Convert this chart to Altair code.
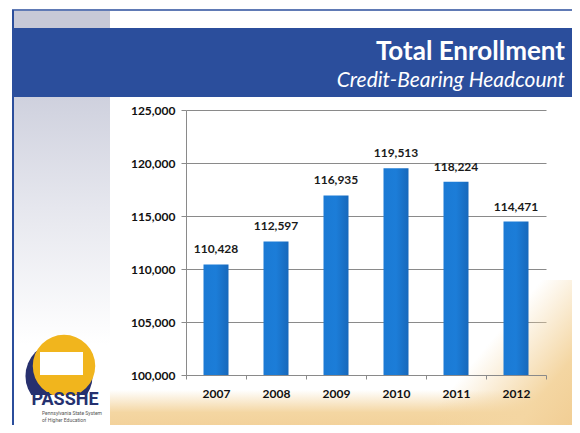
import altair as alt
import pandas as pd

# ---- data ----
years = ["2007", "2008", "2009", "2010", "2011", "2012"]
enrollment = [110428, 112597, 116935, 119513, 118224, 114471]
y_ticks = [100000, 105000, 110000, 115000, 120000, 125000]
title_text = "Total Enrollment"
subtitle_text = "Credit-Bearing Headcount"
logo_text = "PASSHE"
logo_sub1 = "Pennsylvania State System"
logo_sub2 = "of Higher Education"

df = pd.DataFrame({"year": years, "enrollment": enrollment})

NAVY = "#2b4e9c"
GRAY = "#8a8a8a"
LABEL_FONT = "Lato"

one = alt.Data(values=[{"k": 1}])


def deco_rect(x, x2, y, y2, color):
    return alt.Chart(one).mark_rect(color=color).encode(
        x=alt.value(x), x2=alt.value(x2), y=alt.value(y), y2=alt.value(y2)
    )


sand = "#f4d6a2"
sand_clear = "rgba(244,214,162,0)"

# background decorations (plot coordinates; plot origin at the axis corner)
top_line = alt.Chart(one).mark_rule(color=NAVY, strokeWidth=1.5).encode(
    x=alt.value(-174), x2=alt.value(400), y=alt.value(-100)
)
left_line = alt.Chart(one).mark_rule(color=NAVY, strokeWidth=2).encode(
    x=alt.value(-173), y=alt.value(-100), y2=alt.value(330)
)
gray_box = deco_rect(-172, -76, -99, -82, "#c7c9d7")
band = deco_rect(-172, 400, -82, -13, NAVY)
left_strip = deco_rect(
    -172, -76, -13, 235,
    alt.LinearGradient(
        gradient="linear", x1=0, y1=0, x2=0, y2=1,
        stops=[alt.GradientStop(color="#cfd1de", offset=0),
               alt.GradientStop(color="#e6e7ee", offset=0.45),
               alt.GradientStop(color="#ffffff", offset=1)],
    ),
)
sand_a = deco_rect(
    -76, 400, 280, 330,
    alt.LinearGradient(
        gradient="linear", x1=0, y1=0, x2=0, y2=1,
        stops=[alt.GradientStop(color=sand_clear, offset=0),
               alt.GradientStop(color=sand, offset=0.45),
               alt.GradientStop(color="#f1cd93", offset=1)],
    ),
)
sand_b = deco_rect(
    250, 400, 170, 330,
    alt.LinearGradient(
        gradient="linear", x1=0.05, y1=0.1, x2=0.95, y2=0.9,
        stops=[alt.GradientStop(color=sand_clear, offset=0),
               alt.GradientStop(color=sand_clear, offset=0.35),
               alt.GradientStop(color=sand, offset=0.75),
               alt.GradientStop(color="#f1cd93", offset=1)],
    ),
)

title = alt.Chart(one).mark_text(
    text=title_text, align="right", baseline="alphabetic", font=LABEL_FONT,
    fontSize=26, fontWeight="bold", color="white",
).encode(x=alt.value(379), y=alt.value(-50))
subtitle = alt.Chart(one).mark_text(
    text=subtitle_text, align="right", baseline="alphabetic", font=LABEL_FONT,
    fontSize=21, fontStyle="italic", color="white",
).encode(x=alt.value(379), y=alt.value(-23))

# logo
logo_swoosh = alt.Chart(one).mark_circle(color="#27306e", opacity=1).encode(
    x=alt.value(-127), y=alt.value(266), size=alt.value(4500)
)
logo_circle = alt.Chart(one).mark_circle(color="#f1b51d", opacity=1).encode(
    x=alt.value(-122), y=alt.value(256), size=alt.value(3900)
)
logo_map = deco_rect(-146, -103, 242, 265, "#ffffff")
logo_white = deco_rect(-165, -80, 285, 320, "#ffffff")
logo_name = alt.Chart(one).mark_text(
    text=logo_text, align="center", baseline="alphabetic",
    font="Liberation Sans Narrow, Roboto", fontSize=18, fontWeight="bold",
    color="#253170",
).encode(x=alt.value(-121), y=alt.value(295))
logo_s1 = alt.Chart(one).mark_text(
    text=logo_sub1, align="left", baseline="alphabetic", font="Roboto",
    fontSize=5, color="#555555",
).encode(x=alt.value(-144), y=alt.value(305))
logo_s2 = alt.Chart(one).mark_text(
    text=logo_sub2, align="left", baseline="alphabetic", font="Roboto",
    fontSize=5, color="#555555",
).encode(x=alt.value(-144), y=alt.value(312))

# main chart
x_enc = alt.X(
    "year:N", sort=years,
    scale=alt.Scale(paddingInner=0, paddingOuter=0),
    axis=alt.Axis(
        title=None, labelAngle=0, tickBand="extent", tickSize=4,
        labelPadding=9, domainColor=GRAY, tickColor=GRAY, grid=False,
        labelFont=LABEL_FONT, labelFontSize=12, labelFontWeight="bold",
        labelColor="#111111", zindex=1,
    ),
)
y_enc = alt.Y(
    "enrollment:Q",
    scale=alt.Scale(domain=[100000, 125000], zero=False, nice=False),
    axis=alt.Axis(
        title=None, values=y_ticks, labelExpr="format(datum.value, ',')",
        tickSize=5, labelPadding=6,
        grid=True, gridColor=GRAY, gridWidth=1, domainColor=GRAY,
        tickColor=GRAY, labelFont=LABEL_FONT, labelFontSize=12,
        labelFontWeight="bold", labelColor="#111111",
    ),
)

base = alt.Chart(df).encode(x=x_enc, y=y_enc)
bars = base.mark_bar(
    width=25,
    color=alt.LinearGradient(
        gradient="linear", x1=0, y1=0, x2=1, y2=0,
        stops=[alt.GradientStop(color="#1b7ad4", offset=0),
               alt.GradientStop(color="#1c7dd8", offset=0.5),
               alt.GradientStop(color="#1768bb", offset=1)],
    ),
).encode(y2=alt.datum(100000))
labels = base.mark_text(
    dy=-11, baseline="alphabetic", font=LABEL_FONT, fontSize=12,
    fontWeight="bold", color="#1a1a1a",
).encode(text=alt.Text("enrollment:Q", format=","))

chart = alt.layer(
    left_strip, sand_a, sand_b, gray_box, band, top_line, left_line,
    title, subtitle,
    logo_swoosh, logo_circle, logo_map, logo_white, logo_name, logo_s1, logo_s2,
    bars, labels,
).properties(
    width=360, height=265,
    autosize=alt.AutoSizeParams(type="none"),
    padding={"left": 178, "top": 102, "right": 26, "bottom": 50},
).configure_view(strokeWidth=0)

chart.save("out.html", embed_options={"renderer": "svg", "actions": False})
